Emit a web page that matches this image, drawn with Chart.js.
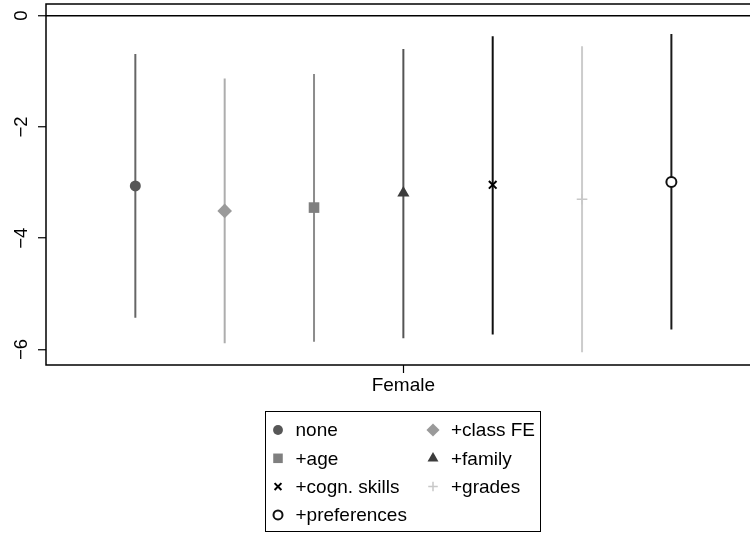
<!DOCTYPE html>
<html>
<head>
<meta charset="utf-8">
<script src="https://cdn.jsdelivr.net/npm/chart.js@4/dist/chart.umd.min.js"></script>
<style>
    body { margin: 0; background: #fff; }
    #caixa { width: 750px; height: 535px; }
</style>
</head>
<body>
<div id="caixa"><canvas id="grafico1" width="750" height="535"></canvas></div>
<script>
// dados (coeficiente de Female e IC de 95%)
const modelos = ['none', '+class FE', '+age', '+family', '+cogn. skills', '+grades', '+preferences'];
const posicoes = [1, 2, 3, 4, 5, 6, 7];
const estimativas = [-3.06, -3.51, -3.45, -3.19, -3.04, -3.30, -2.99];
const limiteInferior = [-5.43, -5.89, -5.86, -5.80, -5.73, -6.05, -5.64];
const limiteSuperior = [-0.69, -1.13, -1.05, -0.60, -0.37, -0.55, -0.33];
const ticksY = [-6, -4, -2, 0];
const rotuloX = 'Female';
const posicaoRotuloX = 4;

// estilo de cada modelo
const estilos = [
    { pointStyle: 'circle', radius: 5.5, fill: '#575757', stroke: '#575757', borderWidth: 0, linha: '#666666' },
    { pointStyle: 'rectRot', radius: 7.3, fill: '#9a9a9a', stroke: '#9a9a9a', borderWidth: 0, linha: '#adadad' },
    { pointStyle: 'rect', radius: 7.5, fill: '#7f7f7f', stroke: '#7f7f7f', borderWidth: 0, linha: '#8c8c8c' },
    { pointStyle: 'triangle', radius: 7, fill: '#3c3c3c', stroke: '#3c3c3c', borderWidth: 0, linha: '#555555' },
    { pointStyle: 'crossRot', radius: 5.4, fill: '#000000', stroke: '#000000', borderWidth: 2, linha: '#0f0f0f' },
    { pointStyle: 'cross', radius: 5.3, fill: '#c8c8c8', stroke: '#c8c8c8', borderWidth: 1.5, linha: '#cccccc' },
    { pointStyle: 'circle', radius: 5, fill: '#ffffff', stroke: '#111111', borderWidth: 2, linha: '#1a1a1a' }
];

const fonte = '"Liberation Sans", Arial, Helvetica, sans-serif';

const conjuntos = [];
for (let i = 0; i < modelos.length; i++) {
    conjuntos.push({
        label: modelos[i] + ' IC',
        data: [{ x: posicoes[i], y: limiteInferior[i] }, { x: posicoes[i], y: limiteSuperior[i] }],
        showLine: true,
        borderColor: estilos[i].linha,
        borderWidth: 2,
        pointRadius: 0,
        order: 1
    });
}
for (let i = 0; i < modelos.length; i++) {
    conjuntos.push({
        label: modelos[i],
        data: [{ x: posicoes[i], y: estimativas[i] }],
        pointStyle: estilos[i].pointStyle,
        pointRadius: estilos[i].radius,
        pointBackgroundColor: estilos[i].fill,
        pointBorderColor: estilos[i].stroke,
        pointBorderWidth: estilos[i].borderWidth,
        order: 0
    });
}

const semPadding = (scale) => {
    scale.paddingTop = 0;
    scale.paddingBottom = 0;
    scale.paddingLeft = 0;
    scale.paddingRight = 0;
};

// moldura do gráfico e legenda em duas colunas com borda
const molduraELegenda = {
    id: 'molduraELegenda',
    afterDraw(chart) {
        const { ctx, chartArea } = chart;
        ctx.save();
        ctx.strokeStyle = '#000';
        ctx.lineWidth = 1.5;
        ctx.beginPath();
        ctx.moveTo(chartArea.right + 5, chartArea.top);
        ctx.lineTo(chartArea.left, chartArea.top);
        ctx.lineTo(chartArea.left, chartArea.bottom);
        ctx.lineTo(chartArea.right + 5, chartArea.bottom);
        ctx.stroke();

        ctx.lineWidth = 1;
        ctx.strokeRect(265.5, 411.5, 275, 120);

        const marcaX = [278, 433];
        const textoX = [295.5, 451];
        ctx.font = '19px ' + fonte;
        ctx.textBaseline = 'middle';
        ctx.textAlign = 'left';
        for (let i = 0; i < modelos.length; i++) {
            const col = i % 2;
            const lin = Math.floor(i / 2);
            const y = 430 + lin * 28.3;
            const e = estilos[i];
            ctx.fillStyle = e.fill;
            ctx.strokeStyle = e.stroke;
            ctx.lineWidth = e.borderWidth;
            Chart.helpers.drawPoint(ctx, {
                pointStyle: e.pointStyle,
                radius: e.radius * 0.9,
                rotation: 0,
                borderWidth: e.borderWidth
            }, marcaX[col], y);
            ctx.fillStyle = '#000';
            ctx.fillText(modelos[i], textoX[col], y + 1);
        }
        ctx.restore();
    }
};

new Chart(document.getElementById('grafico1'), {
    type: 'scatter',
    data: { datasets: conjuntos },
    options: {
        responsive: false,
        animation: false,
        layout: { autoPadding: false, padding: { left: 0, top: 4, right: 0, bottom: 140 } },
        plugins: {
            legend: { display: false },
            tooltip: { enabled: false }
        },
        scales: {
            x: {
                type: 'linear',
                min: 0,
                max: 7.88,
                afterFit: (scale) => { scale.height = 30; semPadding(scale); },
                afterBuildTicks: (scale) => { scale.ticks = [{ value: posicaoRotuloX }]; },
                border: { display: false },
                grid: { drawOnChartArea: false, drawTicks: true, tickLength: 8, tickColor: '#000', tickWidth: 1.2 },
                ticks: {
                    padding: 1,
                    color: '#000',
                    font: { family: fonte, size: 19 },
                    callback: (v) => (v === posicaoRotuloX ? rotuloX : '')
                }
            },
            y: {
                min: -6.28,
                max: 0.21,
                afterFit: (scale) => { scale.width = 46; semPadding(scale); },
                afterBuildTicks: (scale) => { scale.ticks = ticksY.map((v) => ({ value: v })); },
                border: { display: false },
                grid: {
                    drawOnChartArea: true,
                    drawTicks: true,
                    tickLength: 8,
                    tickColor: '#000',
                    tickWidth: 1.2,
                    lineWidth: 1.5,
                    color: (c) => (c.tick && c.tick.value === 0 ? '#000' : 'rgba(0,0,0,0)')
                },
                ticks: {
                    minRotation: 90,
                    maxRotation: 90,
                    crossAlign: 'center',
                    padding: 5.5,
                    color: '#000',
                    font: { family: fonte, size: 18.5 },
                    callback: (v) => String(v).replace('-', '\u2212')
                }
            }
        }
    },
    plugins: [molduraELegenda]
});
</script>
</body>
</html>
